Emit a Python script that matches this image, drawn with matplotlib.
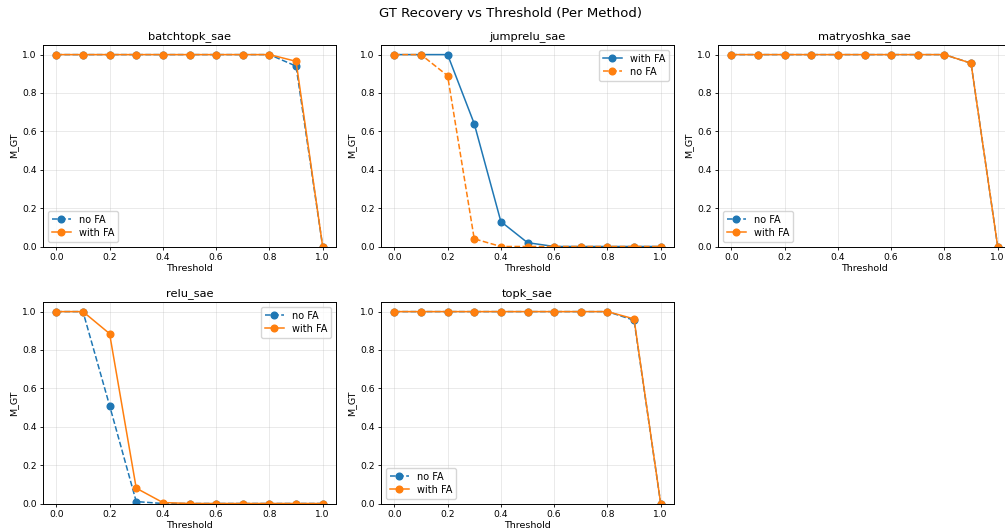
import numpy as np
import matplotlib.pyplot as plt

# thresholds swept for every method
thresholds = [0.0, 0.1, 0.2, 0.3, 0.4, 0.5, 0.6, 0.7, 0.8, 0.9, 1.0]

methods = ["batchtopk_sae", "jumprelu_sae", "matryoshka_sae", "relu_sae", "topk_sae"]

# M_GT values
batchtopk_no_fa = [1, 1, 1, 1, 1, 1, 1, 1, 1, 0.94, 0.0]
batchtopk_with_fa = [1, 1, 1, 1, 1, 1, 1, 1, 1, 0.965, 0.0]

jumprelu_with_fa = [1, 1, 1, 0.64, 0.13, 0.02, 0, 0, 0, 0, 0]
jumprelu_no_fa = [1, 1, 0.89, 0.04, 0, 0, 0, 0, 0, 0, 0]

matryoshka_no_fa = [1, 1, 1, 1, 1, 1, 1, 1, 1, 0.955, 0.0]
matryoshka_with_fa = [1, 1, 1, 1, 1, 1, 1, 1, 1, 0.955, 0.0]

relu_no_fa = [1, 1, 0.51, 0.01, 0, 0, 0, 0, 0, 0, 0]
relu_with_fa = [1, 1, 0.885, 0.08, 0.005, 0, 0, 0, 0, 0, 0]

topk_no_fa = [1, 1, 1, 1, 1, 1, 1, 1, 1, 0.955, 0.0]
topk_with_fa = [1, 1, 1, 1, 1, 1, 1, 1, 1, 0.962, 0.0]

# (label, values) in the order they were plotted for each method
series = {
    "batchtopk_sae": [("no FA", batchtopk_no_fa), ("with FA", batchtopk_with_fa)],
    "jumprelu_sae": [("with FA", jumprelu_with_fa), ("no FA", jumprelu_no_fa)],
    "matryoshka_sae": [("no FA", matryoshka_no_fa), ("with FA", matryoshka_with_fa)],
    "relu_sae": [("no FA", relu_no_fa), ("with FA", relu_with_fa)],
    "topk_sae": [("no FA", topk_no_fa), ("with FA", topk_with_fa)],
}
legend_loc = {
    "batchtopk_sae": "lower left",
    "jumprelu_sae": "upper right",
    "matryoshka_sae": "lower left",
    "relu_sae": "upper right",
    "topk_sae": "lower left",
}

W, H = 1005, 531
fig = plt.figure(figsize=(W / 100, H / 100), dpi=100)

# axes boxes in pixels: left, top
col_left = [43, 381, 718]
row_top = [45, 302]
ax_w, ax_h = 293, 201.5

for i, name in enumerate(methods):
    r, c = divmod(i, 3)
    x0 = col_left[c] / W
    y0 = 1 - (row_top[r] + ax_h) / H
    ax = fig.add_axes([x0, y0, ax_w / W, ax_h / H])
    for k, (label, vals) in enumerate(series[name]):
        ls = "-" if label == "with FA" else "--"
        ax.plot(thresholds, vals, marker="o", linestyle=ls, color=f"C{k}",
                label=label, markersize=4.8, linewidth=1.1)
    ax.set_title(name, fontsize=8.2, pad=4)
    ax.set_xlabel("Threshold", fontsize=6.8, labelpad=2)
    ax.set_ylabel("M_GT", fontsize=6.8, labelpad=3)
    ax.set_xlim(-0.05, 1.05)
    ax.set_ylim(0, 1.05)
    ax.set_xticks(np.arange(0, 1.01, 0.2))
    ax.set_yticks(np.arange(0, 1.01, 0.2))
    ax.tick_params(labelsize=6.6, length=2.4, width=0.6, pad=2)
    for s in ax.spines.values():
        s.set_linewidth(0.7)
    ax.grid(True, alpha=0.3, linewidth=0.6)
    ax.legend(loc=legend_loc[name], fontsize=7, handlelength=2, borderpad=0.4,
              labelspacing=0.3)

fig.text(510 / W, 1 - 14 / H, "GT Recovery vs Threshold (Per Method)",
         ha="center", va="center", fontsize=9.5)

fig.savefig("out.png", dpi=100)
